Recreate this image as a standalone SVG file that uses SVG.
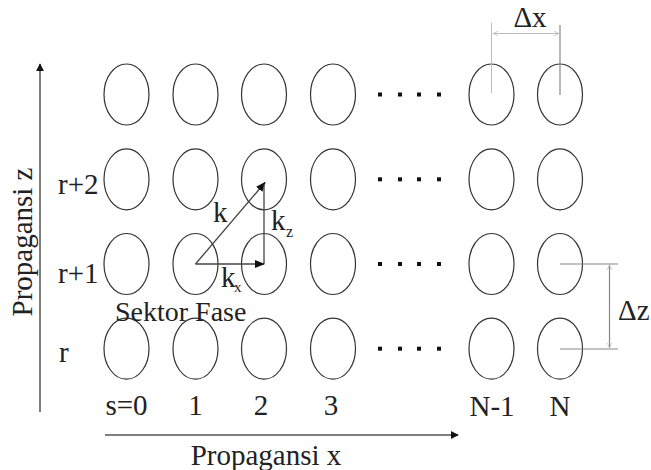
<svg xmlns="http://www.w3.org/2000/svg" width="651" height="470" viewBox="0 0 651 470">
  <style>
    .cell { fill: none; stroke: #333; stroke-width: 1.2; }
    .dot { fill: #111; }
    .axis { fill: none; stroke: #555; stroke-width: 1.5; }
    .vec { fill: none; stroke: #444; stroke-width: 1.3; }
    .dim { fill: none; stroke: #bbb; stroke-width: 1; }
    .dimdark { fill: none; stroke: #888; stroke-width: 1.2; }
    .lbl { font-family: "Liberation Serif", "Times New Roman", serif; font-size: 29px; fill: #222; }
    .sub { font-family: "Liberation Serif", "Times New Roman", serif; font-size: 16px; fill: #222; }
  </style>
  <defs>
    <marker id="tri" viewBox="0 0 10 10" refX="9" refY="5" markerWidth="8" markerHeight="8" markerUnits="userSpaceOnUse" orient="auto">
      <path d="M0,0 L10,5 L0,10 Z" fill="#111"/>
    </marker>
    <marker id="vtri" viewBox="0 0 10 10" refX="9" refY="5" markerWidth="10" markerHeight="10" markerUnits="userSpaceOnUse" orient="auto">
      <path d="M0,1 L10,5 L0,9 Z" fill="#111"/>
    </marker>
    <marker id="open" viewBox="0 0 10 10" refX="9" refY="5" markerWidth="6" markerHeight="6" markerUnits="userSpaceOnUse" orient="auto-start-reverse">
      <path d="M0,1 L9,5 L0,9" fill="none" stroke="#bbb" stroke-width="1.2"/>
    </marker>
    <ellipse id="e" cx="0" cy="0" rx="22.5" ry="30.5" class="cell"/>
    <g id="dots">
      <rect x="378" y="-2" width="4" height="4" class="dot"/>
      <rect x="398" y="-2" width="4" height="4" class="dot"/>
      <rect x="417" y="-2" width="4" height="4" class="dot"/>
      <rect x="437" y="-2" width="4" height="4" class="dot"/>
    </g>
  </defs>

  <!-- row r+3 (top) -->
  <g id="row-top">
    <use href="#e" x="126.5" y="94.5"/>
    <use href="#e" x="195.5" y="94.5"/>
    <use href="#e" x="264" y="94.5"/>
    <use href="#e" x="333" y="94.5"/>
    <use href="#dots" y="94.5"/>
    <use href="#e" x="491.5" y="94.5"/>
    <use href="#e" x="560" y="94.5"/>
  </g>
  <!-- row r+2 -->
  <g id="row-r2">
    <use href="#e" x="126.5" y="179.3"/>
    <use href="#e" x="195.5" y="179.3"/>
    <use href="#e" x="264" y="179.3"/>
    <use href="#e" x="333" y="179.3"/>
    <use href="#dots" y="179.3"/>
    <use href="#e" x="491.5" y="179.3"/>
    <use href="#e" x="560" y="179.3"/>
  </g>
  <!-- row r+1 -->
  <g id="row-r1">
    <use href="#e" x="126.5" y="264"/>
    <use href="#e" x="195.5" y="264"/>
    <use href="#e" x="264" y="264"/>
    <use href="#e" x="333" y="264"/>
    <use href="#dots" y="264"/>
    <use href="#e" x="491.5" y="264"/>
    <use href="#e" x="560" y="264"/>
  </g>
  <!-- row r -->
  <g id="row-r">
    <use href="#e" x="126.5" y="348.7"/>
    <use href="#e" x="195.5" y="348.7"/>
    <use href="#e" x="264" y="348.7"/>
    <use href="#e" x="333" y="348.7"/>
    <use href="#dots" y="348.7"/>
    <use href="#e" x="491.5" y="348.7"/>
    <use href="#e" x="560" y="348.7"/>
  </g>

  <!-- axes -->
  <g id="axes">
    <line x1="40" y1="412" x2="40" y2="64" class="axis" marker-end="url(#tri)"/>
    <line x1="105" y1="435" x2="458" y2="435" class="axis" marker-end="url(#tri)"/>
    <text class="lbl" text-anchor="middle" transform="translate(32,242) rotate(-90)">Propagansi z</text>
    <text class="lbl" x="266" y="465" text-anchor="middle">Propagansi x</text>
  </g>

  <!-- phase vectors -->
  <g id="vectors">
    <line x1="195.5" y1="264" x2="265" y2="182.5" class="vec" marker-end="url(#vtri)"/>
    <line x1="264" y1="264" x2="264" y2="185" class="vec"/>
    <line x1="195.5" y1="264" x2="264" y2="264" class="vec" marker-end="url(#vtri)"/>
    <text class="lbl" x="213" y="222">k</text>
    <text class="lbl" x="271" y="230">k</text>
    <text class="sub" x="286" y="237">z</text>
    <text class="lbl" x="221" y="287">k</text>
    <text class="sub" x="234" y="292" style="font-size:15px">x</text>
    <text class="lbl" x="115" y="321" style="font-size:28px">Sektor Fase</text>
  </g>

  <!-- spacing dimensions -->
  <g id="dim-x">
    <line x1="491.5" y1="23" x2="491.5" y2="93" class="dim"/>
    <line x1="560" y1="25" x2="560" y2="95" class="dimdark"/>
    <line x1="493" y1="33.5" x2="559" y2="33.5" class="dim" marker-start="url(#open)" marker-end="url(#open)"/>
    <text class="lbl" x="530" y="27" text-anchor="middle">Δx</text>
  </g>
  <g id="dim-z">
    <line x1="560" y1="264" x2="618" y2="264" class="dimdark"/>
    <line x1="560" y1="349" x2="618" y2="349" class="dimdark"/>
    <line x1="609.5" y1="265" x2="609.5" y2="348" class="dimdark" marker-start="url(#open)" marker-end="url(#open)"/>
    <text class="lbl" x="618" y="320">Δz</text>
  </g>

  <!-- row and column indices -->
  <g id="row-labels">
    <text class="lbl" x="58" y="194">r+2</text>
    <text class="lbl" x="58" y="283">r+1</text>
    <text class="lbl" x="59" y="362">r</text>
  </g>
  <g id="col-labels">
    <text class="lbl" x="126.5" y="415" text-anchor="middle">s=0</text>
    <text class="lbl" x="195.5" y="415" text-anchor="middle">1</text>
    <text class="lbl" x="261" y="415" text-anchor="middle">2</text>
    <text class="lbl" x="331" y="415" text-anchor="middle">3</text>
    <text class="lbl" x="492" y="416" text-anchor="middle">N-1</text>
    <text class="lbl" x="560" y="416" text-anchor="middle">N</text>
  </g>
</svg>
